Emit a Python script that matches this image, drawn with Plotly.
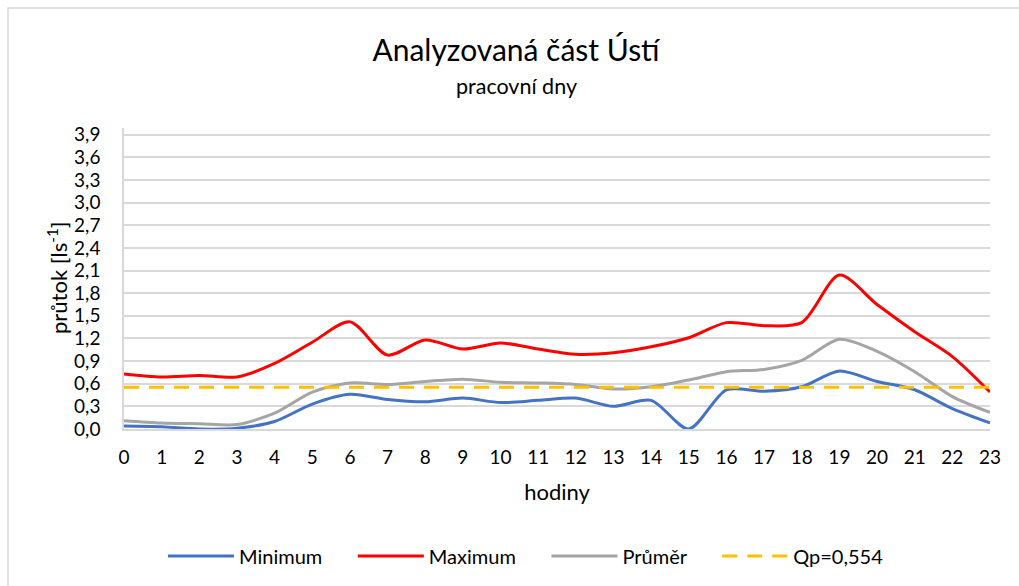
import plotly.graph_objects as go

hours = list(range(24))
minimum = [0.04, 0.03, 0.00, 0.01, 0.10, 0.33, 0.46, 0.39, 0.36, 0.41, 0.35, 0.38,
           0.41, 0.30, 0.38, 0.00, 0.52, 0.50, 0.56, 0.77, 0.63, 0.52, 0.27, 0.08]
maximum = [0.73, 0.69, 0.71, 0.69, 0.87, 1.15, 1.42, 0.98, 1.18, 1.06, 1.14, 1.06,
           0.99, 1.01, 1.09, 1.21, 1.41, 1.37, 1.41, 2.04, 1.65, 1.29, 0.96, 0.49]
prumer = [0.11, 0.08, 0.07, 0.06, 0.21, 0.49, 0.61, 0.59, 0.63, 0.66, 0.62, 0.61,
          0.59, 0.53, 0.56, 0.65, 0.76, 0.79, 0.91, 1.19, 1.03, 0.76, 0.43, 0.22]
qp_value = 0.554
qp = [qp_value] * len(hours)
y_ticks = [round(0.3 * i, 1) for i in range(14)]
series_names = ["Minimum", "Maximum", "Průměr", "Qp=0,554"]

FONT = "Lato"
W, H = 1019, 586
L, R, T, B = 124, 29, 128, 157
PW, PH = W - L - R, H - T - B
PAD = "\u00a0" * 5

fig = go.Figure()
fig.add_trace(go.Scatter(x=hours, y=minimum, name=series_names[0] + PAD, mode="lines",
                         line=dict(color="#4472C4", width=3, shape="spline", smoothing=0.8)))
fig.add_trace(go.Scatter(x=hours, y=maximum, name=series_names[1] + PAD, mode="lines",
                         line=dict(color="#FF0000", width=3, shape="spline", smoothing=0.8)))
fig.add_trace(go.Scatter(x=hours, y=prumer, name=series_names[2] + PAD, mode="lines",
                         line=dict(color="#A5A5A5", width=3, shape="spline", smoothing=0.8)))
fig.add_trace(go.Scatter(x=hours, y=qp, name=series_names[3], mode="lines",
                         line=dict(color="#FFC000", width=3, dash="15px,10px")))

fig.update_layout(
    width=W, height=H,
    paper_bgcolor="white", plot_bgcolor="white",
    separators=", ",
    font=dict(family=FONT, color="#000000", size=19),
    margin=dict(l=L, r=R, t=T, b=B),
    title=dict(
        text="Analyzovaná část Ústí",
        x=516 / W, xanchor="center", xref="container",
        y=1 - 50 / H, yanchor="middle", yref="container",
        font=dict(size=30, family=FONT),
    ),
    annotations=[
        dict(text="pracovní dny", xref="paper", yref="paper",
             x=(516 - L) / PW, y=1 + (T - 86) / PH, xanchor="center", yanchor="middle",
             showarrow=False, font=dict(size=21.5, family=FONT)),
        dict(text="průtok [ls<sup>-1</sup>]", xref="paper", yref="paper",
             x=(57 - L) / PW, y=(H - B - 278) / PH,
             xanchor="center", yanchor="middle", textangle=-90,
             showarrow=False, font=dict(size=22, family=FONT)),
    ],
    xaxis=dict(
        range=[0, 23], tickmode="array", tickvals=hours, ticktext=[str(h) for h in hours],
        showgrid=False, showline=True, linecolor="#D9D9D9", linewidth=1.5,
        ticks="", tickfont=dict(size=19), zeroline=False, ticklabelstandoff=10,
        title=dict(text="hodiny", font=dict(size=22), standoff=18),
    ),
    yaxis=dict(
        range=[0, 3.99], tickmode="array", tickvals=y_ticks, tickformat=".1f",
        showgrid=True, gridcolor="#D9D9D9", gridwidth=1.5,
        showline=True, linecolor="#D9D9D9", linewidth=1.5, zeroline=False,
        ticks="", tickfont=dict(size=19), ticklabelstandoff=18,
    ),
    legend=dict(
        orientation="h", xref="container", yref="container",
        x=163 / W, xanchor="left", y=1 - 556 / H, yanchor="middle",
        font=dict(size=20), itemwidth=66,
    ),
    shapes=[dict(type="rect", xref="paper", yref="paper",
                 x0=(8 - L) / PW, x1=(W + 20 - L) / PW, y0=-(B + 20) / PH, y1=1 + (T - 8) / PH,
                 line=dict(color="#D9D9D9", width=1.5), fillcolor="rgba(0,0,0,0)",
                 layer="below")],
)

fig.write_html("out.html", config={"displayModeBar": False},
               post_script="document.body.style.margin='0px';")
